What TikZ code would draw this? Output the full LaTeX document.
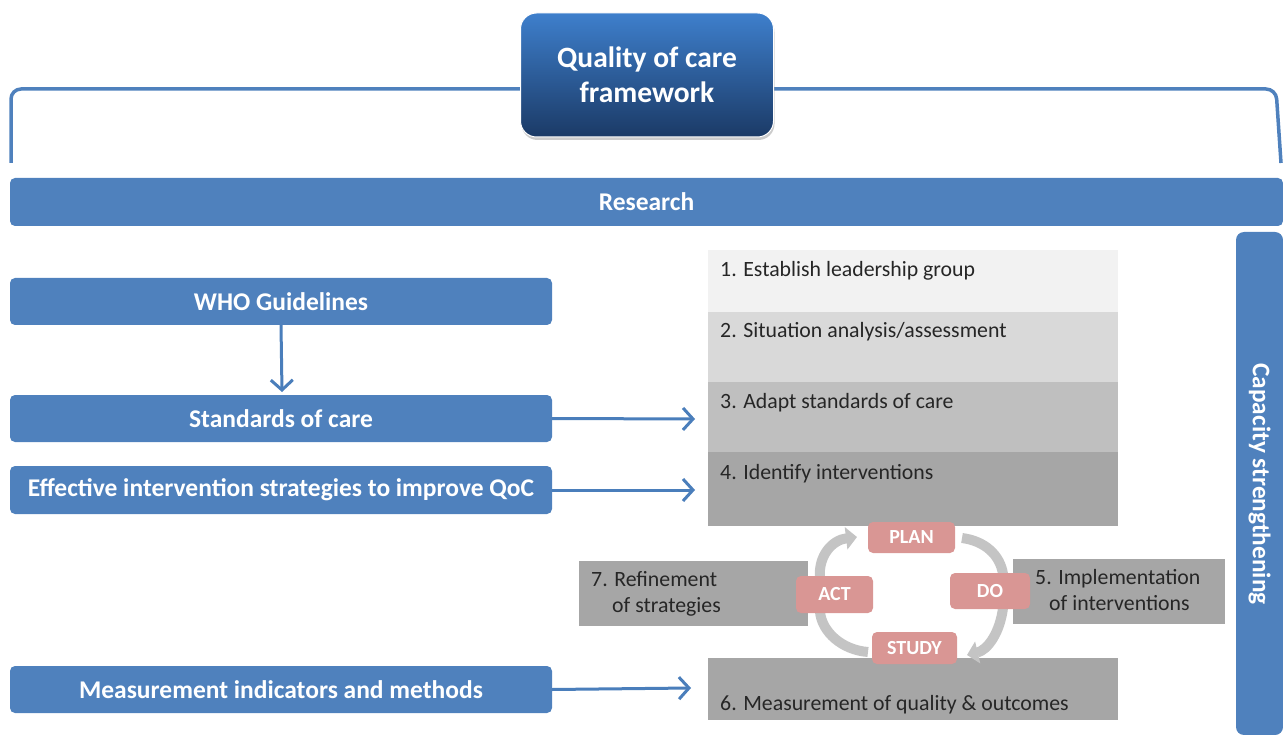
\documentclass[tikz,border=0pt]{standalone}
\usepackage{fontspec}
\setmainfont{Carlito}
\usetikzlibrary{arrows.meta,shadows}
\definecolor{qblue}{HTML}{4F81BD}
\definecolor{qarrow}{HTML}{4A7EBB}
\definecolor{qtop}{HTML}{3E7FCC}
\definecolor{qbot}{HTML}{1B3A66}
\definecolor{pink}{HTML}{D99694}
\definecolor{g1}{HTML}{F2F2F2}
\definecolor{g2}{HTML}{D9D9D9}
\definecolor{g3}{HTML}{BFBFBF}
\definecolor{g4}{HTML}{A6A6A6}
\definecolor{cyc}{HTML}{C4C4C4}
\tikzset{
  bluebox/.style={fill=qblue, rounded corners=5pt, text=white, font=\fontsize{25.5}{28}\selectfont\bfseries, inner sep=0pt},
  stepbox/.style={anchor=base west, inner sep=0pt, text=black!85, font=\fontsize{21.8}{26}\selectfont},
  stepboxml/.style={anchor=north west, inner sep=0pt, text=black!85, align=left, font=\fontsize{21.8}{26}\selectfont},
  pdca/.style={fill=pink, rounded corners=5pt, text=white, font=\fontsize{20}{22}\selectfont\bfseries, inner sep=0pt},
  barrow/.style={draw=qarrow, line width=3pt, -{Straight Barb[length=10pt,width=22pt,line width=3pt]}},
  carrow/.style={draw=cyc, line width=10pt},
}
\begin{document}
\begin{tikzpicture}[x=1pt,y=-1pt]
\useasboundingbox (0,0) rectangle (1283,735);
% bracket
\draw[qblue, line width=3.5pt, rounded corners=10pt] (11,163) -- (11,89) -- (1276,89) -- (1281,163);
% title
\node[drop shadow={shadow xshift=1pt,shadow yshift=-3pt,opacity=0.4}, rounded corners=16pt, top color=qtop, bottom color=qbot, draw=white, line width=1pt,
  minimum width=253pt, minimum height=124pt, text=white, align=center,
  font=\fontsize{29.5}{35}\selectfont\bfseries] (title) at (647,75) {Quality of care\\framework};
% research
\node[bluebox, minimum width=1273pt, minimum height=48pt] (research) at (646.5,202) {Research};
% capacity
\node[bluebox, minimum width=47pt, minimum height=503pt, rounded corners=8pt] (cap) at (1259.5,483.5) {};
\node[rotate=-90, text=white, font=\fontsize{25.3}{28}\selectfont\bfseries] (captext) at (1259.5,484) {Capacity strengthening};
% left boxes
\node[bluebox, minimum width=542pt, minimum height=47pt] (who) at (281,301.5) {WHO Guidelines};
\node[bluebox, minimum width=542pt, minimum height=47pt] (std) at (281,418.5) {Standards of care};
\node[bluebox, minimum width=542pt, minimum height=48pt] (eff) at (281,490) {Effective intervention strategies to improve QoC};
\node[bluebox, minimum width=542pt, minimum height=47pt] (meas) at (281,689.5) {Measurement indicators and methods};
% steps
\fill[g1] (708,250) rectangle (1118,312);
\fill[g2] (708,312) rectangle (1118,382);
\fill[g3] (708,382) rectangle (1118,452);
\fill[g4] (708,452) rectangle (1118,526);
\fill[g4] (579,561) rectangle (808,626);
\fill[g4] (1013,559) rectangle (1225,624);
\fill[g4] (708,658) rectangle (1118,720);
\node[stepbox] (s1) at (720,277) {1. Establish leadership group};
\node[stepbox] (s2) at (720,338) {2. Situation analysis/assessment};
\node[stepbox] (s3) at (720,409) {3. Adapt standards of care};
\node[stepbox] (s4) at (720,479) {4. Identify interventions};
\node[stepboxml] (s7) at (591,571) {7. Refinement\\\hspace*{21pt}of strategies};
\node[stepboxml] (s5) at (1035,569) {5. Implementation\\\hspace*{14pt}of interventions};
\node[stepbox] (s6) at (720,710) {6. Measurement of quality \& outcomes};
\coordinate (t3) at (695,419);
\coordinate (t4) at (695,490);
\coordinate (t6) at (691,688);
% blue arrows
\draw[barrow] (who.south) -- (282,392);
\draw[barrow] (std.east) -- (t3);
\draw[barrow] (eff.east) -- (t4);
\draw[barrow] (meas.east) -- (t6);
% cycle arrows
\coordinate (c1) at (820,578);
\coordinate (c2) at (962,538);
\coordinate (c3) at (1003,608);
\coordinate (c4) at (868,652);
\draw[carrow, -{Triangle[length=11pt,width=22pt]}] (c1) .. controls (818,556) and (832,540) .. (857,537);
\draw[carrow] (c2) .. controls (985,541) and (1000,555) .. (1003,574);
\draw[carrow, -{Triangle[length=11pt,width=22pt]}] (c3) .. controls (1000,632) and (988,650) .. (967,655);
\draw[carrow] (c4) .. controls (842,650) and (822,632) .. (820,612);
% pdca
\node[pdca, minimum width=87pt, minimum height=31pt] (plan) at (911.5,537.5) {PLAN};
\node[pdca, minimum width=77pt, minimum height=37pt] (act) at (834.5,594.5) {ACT};
\node[pdca, minimum width=80pt, minimum height=36pt] (do) at (990,591) {DO};
\node[pdca, minimum width=85pt, minimum height=32pt] (study) at (914.5,648) {STUDY};
\end{tikzpicture}
\end{document}
